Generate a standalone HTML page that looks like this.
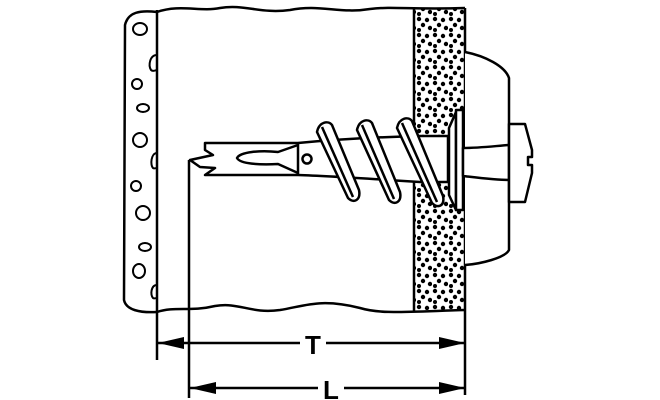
<!DOCTYPE html>
<html><head><style>html,body{margin:0;padding:0;background:#fff}svg{display:block}</style></head>
<body>
<svg width="660" height="400" viewBox="0 0 660 400" xmlns="http://www.w3.org/2000/svg">
<defs>
<pattern id="dots" width="16" height="16" patternUnits="userSpaceOnUse">
<circle cx="3" cy="3" r="2.2" fill="#000"/><circle cx="11" cy="4" r="2.2" fill="#000"/>
<circle cx="7" cy="9" r="2.2" fill="#000"/><circle cx="14" cy="12" r="2.2" fill="#000"/>
<circle cx="3" cy="14" r="2" fill="#000"/>
</pattern>
</defs>
<g fill="none" stroke="#000" stroke-width="2.5" stroke-linejoin="round">
<rect x="414" y="9" width="51" height="301" fill="url(#dots)" stroke="none"/>
<path d="M157,12 C140,10 128,12 125,25 L124,300 C126,310 140,313 157,312"/>
<path d="M157,12 C180,4 200,12 220,8 C245,4 260,14 290,10 C320,4 340,14 370,9 C395,6 410,10 465,8"/>
<path d="M157,312 C175,306 190,312 215,306 C240,302 250,314 280,310 C305,306 320,298 360,308 C380,314 400,312 465,310"/>
<line x1="157" y1="10" x2="157" y2="360"/>
<line x1="414" y1="9" x2="414" y2="311"/>
<line x1="465" y1="8" x2="465" y2="395"/>
<g stroke-width="2">
<ellipse cx="140" cy="29" rx="7" ry="6"/><path d="M157,55 C150,55 148,65 151,70 C153,72 156,70 157,70"/>
<ellipse cx="137" cy="84" rx="5" ry="5"/><ellipse cx="143" cy="108" rx="6" ry="4"/>
<ellipse cx="140" cy="140" rx="7" ry="7"/><path d="M157,153 C151,153 150,165 153,168 C154,169 156,168 157,168"/>
<ellipse cx="136" cy="186" rx="5" ry="5"/><ellipse cx="143" cy="213" rx="7" ry="7"/>
<ellipse cx="145" cy="247" rx="6" ry="4"/><ellipse cx="139" cy="271" rx="6" ry="7"/>
<path d="M157,285 C151,285 150,295 153,298 C154,299 156,298 157,298"/>
</g>
<path d="M465,52 C485,56 505,66 509,78 L509,250 C505,258 480,264 465,265" fill="#fff"/>
<path d="M205,143 L298,143 C330,140 380,137 420,136 L448,136 L448,182 L420,182 C390,180 330,176 298,175 L205,175 L215,168 L200,167 L190,160 L213,155 L205,150 Z" fill="#fff"/>
<line x1="298" y1="143" x2="298" y2="175"/>
<circle cx="307" cy="159" r="4.5"/>
<path d="M298,145 L278,152 C260,150 240,152 237,158 C240,164 260,165 278,164 L298,173"/>
<path d="M317,132 C319,122 328,120 332,125 L359,190 C361,200 354,204 348,198 Z" fill="#fff"/>
<line x1="322" y1="127" x2="353" y2="197"/>
<path d="M357,130 C359,120 368,118 372,123 L400,192 C402,202 395,206 389,200 Z" fill="#fff"/>
<line x1="362" y1="125" x2="394" y2="199"/>
<path d="M397,128 C399,118 408,116 412,121 L443,196 C445,206 438,209 432,203 Z" fill="#fff"/>
<line x1="402" y1="123" x2="437" y2="202"/>
<path d="M456,112 L449,128 L449,195 L456,210 Z" fill="#fff"/>
<rect x="456" y="110" width="7" height="100" fill="#fff"/>
<path d="M463,148 C480,148 495,146 509,145 L509,180 C495,180 480,178 463,176 Z" fill="#fff"/>
<path d="M509,124 L525,124 L532,150 L532,157 L528,157 L528,165 L532,165 L532,173 L525,202 L509,202 Z" fill="#fff"/>
<line x1="189" y1="160" x2="189" y2="398"/>
<line x1="158" y1="343" x2="300" y2="343"/><line x1="326" y1="343" x2="465" y2="343"/>
<line x1="190" y1="388" x2="318" y2="388"/><line x1="344" y1="388" x2="465" y2="388"/>
</g>
<g fill="#000">
<path d="M158,343 L184,337 L184,349 Z"/><path d="M465,343 L439,337 L439,349 Z"/>
<path d="M190,388 L216,382 L216,394 Z"/><path d="M465,388 L439,382 L439,394 Z"/>
</g>
<text x="313" y="354" font-family="Liberation Sans, sans-serif" font-weight="bold" font-size="26" text-anchor="middle">T</text>
<text x="331" y="399" font-family="Liberation Sans, sans-serif" font-weight="bold" font-size="26" text-anchor="middle">L</text>
</svg>
</body></html>
